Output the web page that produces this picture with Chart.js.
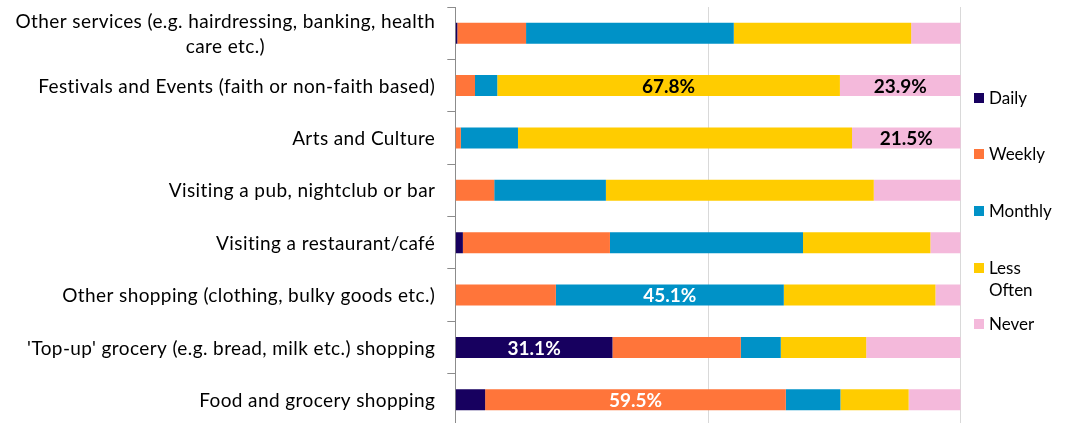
<!DOCTYPE html>
<html>
<head>
<meta charset="utf-8">
<script src="https://cdn.jsdelivr.net/npm/chart.js@4.4.0/dist/chart.umd.min.js"></script>
<style>
  html, body { margin: 0; padding: 0; background: #fff; overflow: hidden; }
  #wrap { position: relative; width: 1067px; height: 423px; overflow: hidden; }
  #legend { position: absolute; left: 974px; top: 0; font: 17px Lato, sans-serif; color: #000; }
  .item { position: absolute; left: 0; width: 72px; padding-left: 15px; line-height: 22px; }
  .swatch { position: absolute; left: 0; top: 6px; width: 10px; height: 10px; }
</style>
</head>
<body>
<div id="wrap">
  <canvas id="grafico" width="1067" height="426"></canvas>
  <div id="legend"></div>
</div>
<script>
const categorias = [
    ['Other services (e.g. hairdressing, banking, health', 'care etc.)'],
    'Festivals and Events (faith or non-faith based)',
    'Arts and Culture',
    'Visiting a pub, nightclub or bar',
    'Visiting a restaurant/café',
    'Other shopping (clothing, bulky goods etc.)',
    "'Top-up' grocery (e.g. bread, milk etc.) shopping",
    'Food and grocery shopping'
];
const daily     = [0.4, 0,    0,    0,    1.5,  0,    31.1, 5.9];
const weekly    = [13.6, 3.9, 1.1,  7.7,  29.1, 19.9, 25.4, 59.5];
const monthly   = [41.1, 4.4, 11.3, 22.1, 38.2, 45.1, 7.9,  10.8];
const lessOften = [35.1, 67.8, 66.1, 53.0, 25.2, 30.0, 16.9, 13.5];
const never     = [9.8,  23.9, 21.5, 17.2, 6.0,  5.0,  18.7, 10.3];

// [serie, categoria] que levam o valor escrito na barra
const valoresRotulados = [[3, 1], [4, 1], [4, 2], [2, 5], [0, 6], [1, 7]];

const series = [
    { label: 'Daily',      data: daily,     cor: '#17005f', corTexto: '#fff' },
    { label: 'Weekly',     data: weekly,    cor: '#ff753a', corTexto: '#fff' },
    { label: 'Monthly',    data: monthly,   cor: '#0092c7', corTexto: '#fff' },
    { label: 'Less Often', data: lessOften, cor: '#ffcc00', corTexto: '#000' },
    { label: 'Never',      data: never,     cor: '#f4b9db', corTexto: '#000' }
];

const fonte = 'Lato, sans-serif';

// rotulos do eixo y: bloco alinhado a direita, linhas centradas entre si
const rotulosEixo = {
    id: 'rotulosEixo',
    afterDraw(chart) {
        const ctx = chart.ctx;
        const y = chart.scales.y;
        ctx.save();
        ctx.font = '19px ' + fonte;
        ctx.letterSpacing = '0.4px';
        ctx.fillStyle = '#000';
        ctx.textAlign = 'center';
        ctx.textBaseline = 'middle';
        const direita = y.right - 20;
        categorias.forEach((cat, i) => {
            const linhas = [].concat(cat);
            const largura = Math.max(...linhas.map(l => ctx.measureText(l).width));
            const centro = y.getPixelForValue(i) + 1;
            linhas.forEach((l, k) => {
                ctx.fillText(l, direita - largura / 2, centro + (k - (linhas.length - 1) / 2) * 25);
            });
        });
        ctx.restore();
    }
};

// valores escritos dentro das barras
const rotulosValor = {
    id: 'rotulosValor',
    afterDatasetsDraw(chart) {
        const ctx = chart.ctx;
        ctx.save();
        ctx.font = 'bold 19px ' + fonte;
        ctx.textAlign = 'center';
        ctx.textBaseline = 'middle';
        valoresRotulados.forEach(([s, i]) => {
            const barra = chart.getDatasetMeta(s).data[i];
            const p = barra.getCenterPoint();
            ctx.fillStyle = series[s].corTexto;
            ctx.fillText(series[s].data[i].toFixed(1) + '%', p.x, p.y + 1);
        });
        ctx.restore();
    }
};

const grafico = new Chart(document.getElementById('grafico'), {
    type: 'bar',
    data: {
        labels: categorias,
        datasets: series.map(s => ({
            label: s.label,
            data: s.data,
            backgroundColor: s.cor,
            borderWidth: 0,
            barPercentage: 0.4,
            categoryPercentage: 1
        }))
    },
    options: {
        indexAxis: 'y',
        responsive: false,
        animation: false,
        devicePixelRatio: 1,
        layout: { padding: { left: 0, right: 106.3, top: 7, bottom: 0 } },
        plugins: {
            legend: { display: false },
            tooltip: { enabled: false }
        },
        scales: {
            x: {
                stacked: true,
                min: 0,
                max: 100,
                ticks: { display: false, stepSize: 50 },
                grid: { color: '#d9d9d9', lineWidth: 1, drawTicks: false },
                border: { display: false },
                afterFit: s => { s.height = 0; }
            },
            y: {
                stacked: true,
                ticks: { display: false },
                grid: { drawOnChartArea: false, color: '#8c8c8c', tickLength: 8, offset: true },
                border: { color: '#8c8c8c' },
                afterFit: s => { s.width = 455.3; }
            }
        }
    },
    plugins: [rotulosEixo, rotulosValor]
});

// legenda em html, para "Less Often" quebrar em duas linhas
const legenda = document.getElementById('legend');
series.forEach((s, i) => {
    const item = document.createElement('div');
    item.className = 'item';
    item.style.top = (97.8 + i * 56.6 - 11) + 'px';
    const quadrado = document.createElement('span');
    quadrado.className = 'swatch';
    quadrado.style.background = s.cor;
    item.appendChild(quadrado);
    item.appendChild(document.createTextNode(s.label));
    legenda.appendChild(item);
});
</script>
</body>
</html>
